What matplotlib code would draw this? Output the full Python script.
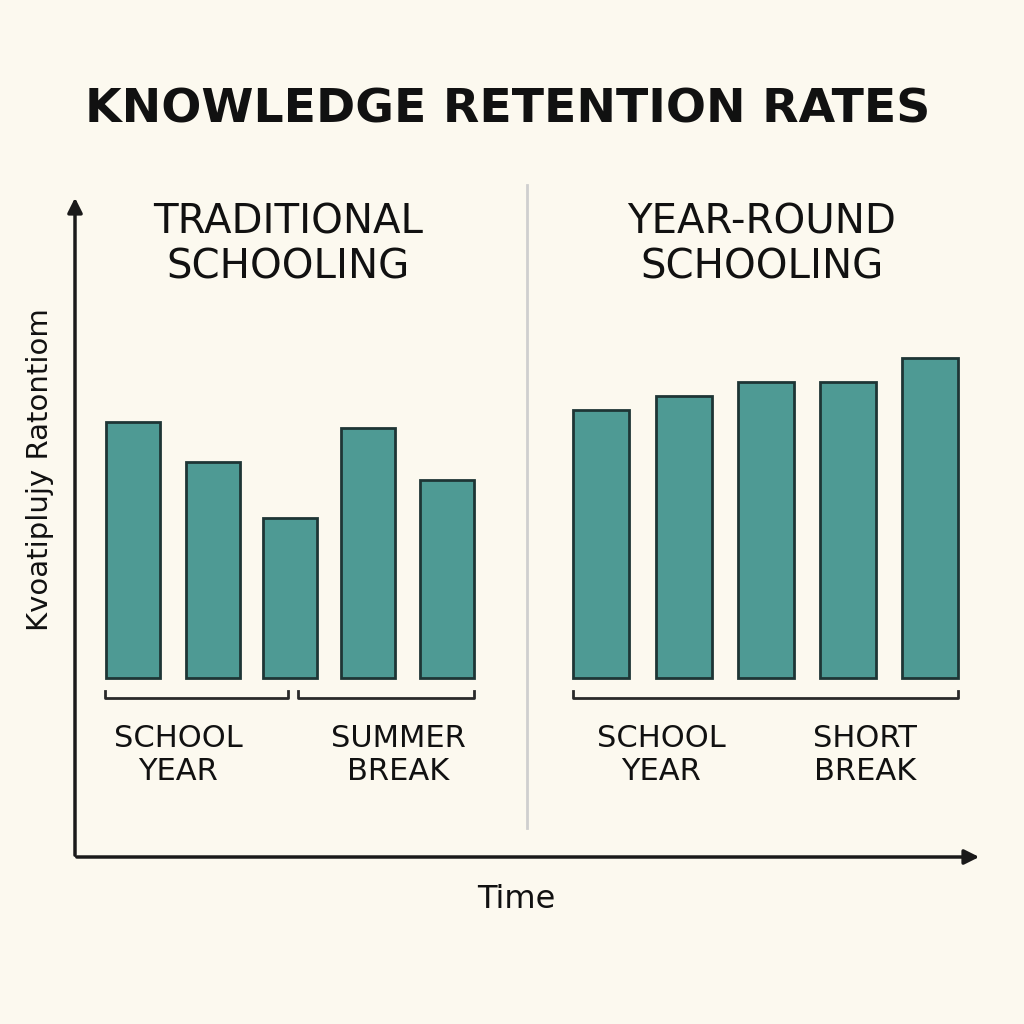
import matplotlib
matplotlib.use("Agg")
import matplotlib.pyplot as plt

# bar values (relative retention, baseline = 0)
trad_values = [64, 54, 40, 62.5, 49.5]
year_values = [67, 70.5, 74, 74, 80]
trad_groups = ["SCHOOL\nYEAR", "SUMMER\nBREAK"]
year_groups = ["SCHOOL\nYEAR", "SHORT\nBREAK"]

BG = "#fcf9ef"
BAR = "#4e9a94"
EDGE = "#1e3535"
SCALE = 4.0
BASE = 1024 - 678

fig = plt.figure(figsize=(10.24, 10.24), dpi=100, facecolor=BG)
ax = fig.add_axes([0, 0, 1, 1])
ax.set_xlim(0, 1024)
ax.set_ylim(0, 1024)
ax.axis("off")
ax.set_facecolor(BG)

trad_x = [133, 213, 290, 368, 447]
year_x = [601, 684, 766, 848, 930]
ax.bar(trad_x, [v * SCALE for v in trad_values], width=54, bottom=BASE,
       color=BAR, edgecolor=EDGE, linewidth=2)
ax.bar(year_x, [v * SCALE for v in year_values], width=56, bottom=BASE,
       color=BAR, edgecolor=EDGE, linewidth=2)

# axes arrows
ax.annotate("", xy=(75, 1024 - 195), xytext=(75, 1024 - 858),
            arrowprops=dict(arrowstyle="-|>", color="#1a1a1a", lw=2.5, mutation_scale=22))
ax.annotate("", xy=(982, 1024 - 857), xytext=(74, 1024 - 857),
            arrowprops=dict(arrowstyle="-|>", color="#1a1a1a", lw=2.5, mutation_scale=22))

# divider
ax.plot([527, 527], [1024 - 185, 1024 - 828], color="#cfcfcf", lw=2)

# brackets
def bracket(x0, x1, y=1024 - 698):
    ax.plot([x0, x0, x1, x1], [y + 7, y, y, y + 7], color="#2a2a2a", lw=2)

bracket(105, 288)
bracket(298, 474)
bracket(573, 958)

# texts
ax.text(508, 1024 - 110, "KNOWLEDGE RETENTION RATES", ha="center", va="center",
        fontsize=34, fontweight="bold", color="#111111")
ax.text(288, 1024 - 245, "TRADITIONAL\nSCHOOLING", ha="center", va="center",
        fontsize=29, fontweight="medium", color="#111111", linespacing=1.15)
ax.text(762, 1024 - 245, "YEAR-ROUND\nSCHOOLING", ha="center", va="center",
        fontsize=29, fontweight="medium", color="#111111", linespacing=1.15)
for x, label in zip([178, 398], trad_groups):
    ax.text(x, 1024 - 755, label, ha="center", va="center", fontsize=22,
            fontweight="medium", color="#111111")
for x, label in zip([661, 865], year_groups):
    ax.text(x, 1024 - 755, label, ha="center", va="center", fontsize=22,
            fontweight="medium", color="#111111")
ax.text(516, 1024 - 900, "Time", ha="center", va="center", fontsize=23,
        fontweight="medium", color="#111111")
ax.text(40, 1024 - 470, "Kvoatiplujy Ratontiom", ha="center", va="center",
        rotation=90, fontsize=21, color="#111111")

fig.savefig("out.png", dpi=100, facecolor=BG)
